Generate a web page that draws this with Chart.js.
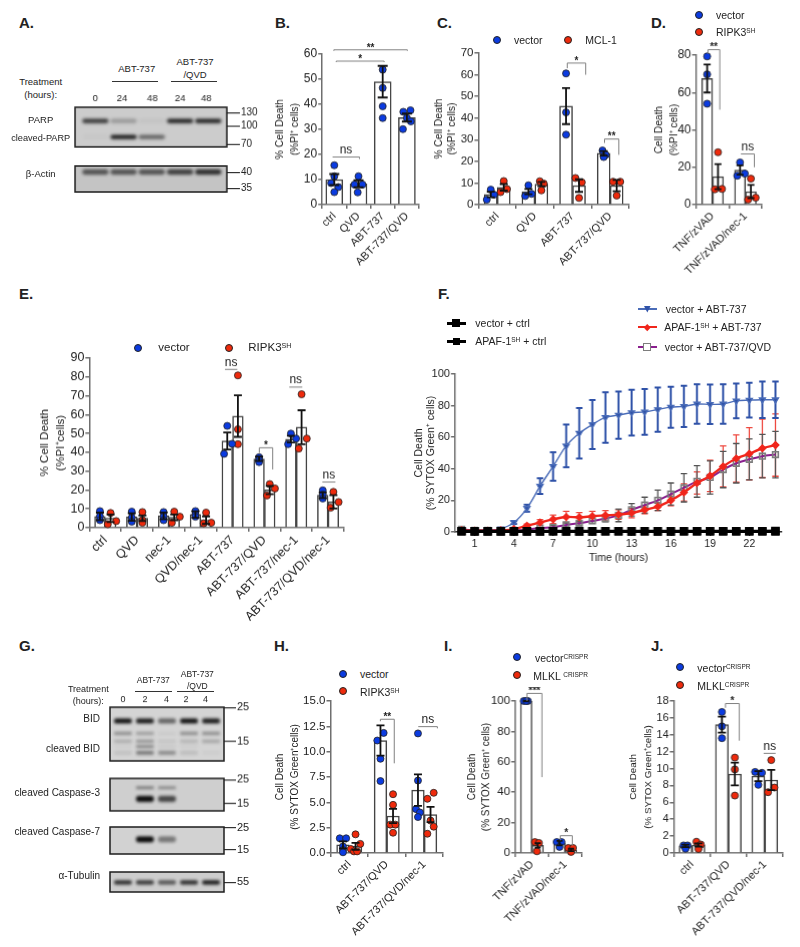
<!DOCTYPE html>
<html>
<head>
<meta charset="utf-8">
<title>Figure panels A-J</title>
<script src="https://cdn.jsdelivr.net/npm/chart.js@4/dist/chart.umd.min.js"></script>
<style>
  html, body { margin: 0; background: #fff; }
  #page { position: relative; width: 800px; height: 947px; overflow: hidden; background: #fff; font-family: "Liberation Sans", Arial, sans-serif; color: #222; }
  #page canvas { position: absolute; }
  .t { position: absolute; white-space: nowrap; line-height: 1; }
  .t sup { font-size: 62%; line-height: 0; vertical-align: 0.5em; }
  .m { position: absolute; }
</style>
</head>
<body>
<div id="page"></div>
<script>
// panel B
const bLabels = ["ctrl", "QVD", "ABT-737", "ABT-737/QVD"];
const bMeans = [10, 8.3, 49, 34.7];
const bSem = [2.2, 1.4, 6.3, 1.6];
const bPoints = [[15.7, 11.3, 8.6, 7, 5], [11.3, 8, 8, 4.9], [53.8, 46.5, 39.2, 34.5], [37.6, 37, 34.5, 33.2, 30.1]];
const bSpread = [[0, 0, -0.8, 1, 0], [0, -1, 1, -0.2], [0, 0, 0, 0], [0.9, -0.9, 0, 1, -1]];
const bBrackets = [[0.43, 1.54, 19, 19, 18.2, "ns"], [0.48, 3.52, 61.7, 61.3, 61.3, "**"], [0.58, 2.56, 57.2, 56.8, 56.8, "*"]];

// panel C
const cLabels = ["ctrl", "QVD", "ABT-737", "ABT-737/QVD"];
const cVector = [4.7, 6, 45.5, 23.7];
const cVectorSem = [1.3, 1.2, 8.3, 1];
const cVectorPoints = [[6.9, 4.6, 2.3], [8.9, 5, 4], [60.6, 42.6, 32.3], [25, 23, 22]];
const cVectorSpread = [[0, 0.8, -1], [0, 0.8, -0.8], [0, 0, 0], [-0.3, 0.5, 0]];
const cMcl = [8, 9.5, 8.8, 8.8];
const cMclSem = [1.5, 1, 2.9, 2.6];
const cMclPoints = [[10.9, 7.2, 5.8], [10.8, 9.7, 6.6], [12.3, 10.3, 3.1], [10.6, 10.6, 4.2]];
const cMclSpread = [[0, 0.8, -0.8], [-0.4, 0.6, 0], [-0.9, 0.7, 0], [-0.9, 0.9, 0]];
const cBrackets = [[2.36, 2.85, 65.4, 63, 60, "*"], [3.35, 3.73, 30.3, 28.5, 23, "**"]];

// panel D
const dLabels = ["TNF/zVAD", "TNF/zVAD/nec-1"];
const dVector = [67.5, 18.5];
const dVectorSem = [7.5, 2.5];
const dVectorPoints = [[79.3, 69.7, 54], [22.6, 16.6, 15.5]];
const dVectorSpread = [[0, 0, 0], [0, 1.2, -0.7]];
const dRipk = [15, 7];
const dRipkSem = [6.7, 3.5];
const dRipkPoints = [[28, 8.4, 8.2], [13.9, 3.7, 2.7]];
const dRipkSpread = [[0, 1, -0.8], [0, 1.2, -0.7]];
const dBrackets = [[0.36, 0.72, 82.9, 80.7, 50.8, "**"], [1.36, 1.77, 27.1, 27.1, 20, "ns"]];

// panel E
const eLabels = ["ctrl", "QVD", "nec-1", "QVD/nec-1", "ABT-737", "ABT-737/QVD", "ABT-737/nec-1", "ABT-737/QVD/nec-1"];
const eVector = [6, 5.7, 6.3, 7, 46, 36.5, 47, 17.2];
const eVectorSem = [2, 2, 1.8, 1.7, 4.5, 1.2, 1.8, 1.5];
const eVectorPoints = [[8.8, 6, 4], [8.5, 5.3, 3.2], [8.3, 5.8, 4], [8.8, 7, 5.8], [54, 44.5, 39.2], [37.4, 36, 34.8], [49.9, 47.3, 44.3], [19.8, 17.6, 15.5]];
const eVectorSpread = [[0, 0, 0], [0, 0, 0], [0, 0, 0], [0, 0, 0], [0, 1.2, -0.8], [0, 0, 0], [0, 1.3, -0.7], [0, 0, 0]];
const eRipk = [5, 5, 5.5, 4, 59.2, 20, 53.3, 13.7];
const eRipkSem = [2, 1.5, 1.5, 2, 11, 2.2, 9, 3.5];
const eRipkPoints = [[7.8, 3.5, 1.8], [8.3, 4, 2.6], [8.5, 5.8, 2.6], [8, 2.6, 2.3], [80.8, 52.2, 44.3], [23.1, 20.8, 17.1], [70.8, 47.3, 42], [19, 13.6, 10.6]];
const eRipkSpread = [[0, 1.4, -0.7], [0, 0, 0], [0, 1.4, -0.6], [0, 1.3, -0.6], [0, 0, 0], [0, 1.3, -0.7], [0, 1.3, -0.7], [0, 1.3, -0.7]];
const eBrackets = [[4.26, 4.65, 84, 84, 84, "ns"], [6.28, 6.69, 74.6, 74.6, 74.6, "ns"], [7.32, 7.73, 24.2, 24.2, 24.2, "ns"], [5.34, 5.76, 42.4, 39.7, 30.9, "*"]];

// panel F
const fHours = [0, 1, 2, 3, 4, 5, 6, 7, 8, 9, 10, 11, 12, 13, 14, 15, 16, 17, 18, 19, 20, 21, 22, 23, 24];
const fHourTicks = [1, 4, 7, 10, 13, 16, 19, 22];
const fVectorAbt = [1.5, 1, 1, 2, 6, 15, 29, 41.5, 54.5, 62.5, 68, 72.5, 74, 75.5, 76, 77.5, 79, 79.5, 81, 80.8, 81, 83, 83.5, 83.7, 83.7];
const fVectorAbtErr = [0, 0, 0, 0, 1, 2.2, 5, 9, 13.5, 16, 15.5, 16, 15, 14.5, 14.5, 14, 13, 13, 12.5, 12.5, 12.5, 11, 11, 11.5, 11.5];
const fApafAbt = [1, 0.8, 0.8, 1, 1.8, 4, 6, 8, 9.5, 9.3, 10, 10.5, 11, 12, 14, 16, 20, 25, 31, 35.5, 41.5, 46.5, 49.5, 53, 55];
const fApafAbtErr = [0, 0, 0, 0, 0.5, 1, 1.8, 2.7, 3.5, 3, 3, 3, 3, 3, 2.5, 2.5, 3.5, 5.5, 7, 10, 13, 15, 16.5, 18.5, 19.7];
const fVectorQvd = [1.7, 1, 1, 1, 1, 1.5, 2.5, 3, 4.5, 5.5, 7, 8.5, 10.5, 14, 17, 20, 24, 28, 32, 34.5, 39.5, 43.5, 46, 48, 49];
const fVectorQvdErr = [0, 0, 0, 0, 0, 0, 0.5, 1, 1.2, 1.2, 1.5, 2, 4, 4, 5, 6.5, 7, 9, 10, 10.5, 11.5, 12.5, 13, 13.8, 14.7];
const fVectorCtrl = [0.5, 0.4, 0.4, 0.4, 0.4, 0.4, 0.4, 0.5, 0.4, 0.4, 0.4, 0.5, 0.5, 0.4, 0.5, 0.4, 0.4, 0.5, 0.5, 0.5, 0.5, 0.5, 0.5, 0.5, 0.6];
const fApafCtrl = [0.3, 0.3, 0.3, 0.3, 0.3, 0.3, 0.3, 0.3, 0.3, 0.3, 0.3, 0.3, 0.3, 0.3, 0.3, 0.3, 0.3, 0.3, 0.3, 0.3, 0.3, 0.3, 0.3, 0.3, 0.3];

// panel H
const hLabels = ["ctrl", "ABT-737/QVD", "ABT-737/QVD/nec-1"];
const hVector = [0.8, 11.1, 6.2];
const hVectorSem = [0.35, 1.5, 1.55];
const hVectorPoints = [[1.45, 1.45, 0.65, 0.3, 0.07], [11.85, 11.1, 9.3, 7.1], [11.8, 7.15, 4.33, 4, 3.55]];
const hVectorSpread = [[-0.8, 0.8, 0, 0, 0], [0.8, -0.8, 0, 0], [0, 0, -0.5, 0.5, 0]];
const hRipk = [0.65, 3.65, 3.8];
const hRipkSem = [0.35, 0.7, 0.75];
const hRipkPoints = [[1.84, 0.9, 0.4, 0.16, 0.16], [5.8, 4.75, 2.8, 2.8, 2], [5.94, 5.35, 3.2, 2.6, 1.9]];
const hRipkSpread = [[0, 1.2, -1.2, -0.4, 0.4], [0, 0, -0.7, 0.6, 0], [0.8, -0.8, 0, 0.8, -0.8]];
const hBrackets = [[1.33, 1.7, 13.2, 13, 8.85, "**"], [2.34, 2.85, 12.47, 12.47, 12.3, "ns"]];

// panel I
const iLabels = ["TNF/zVAD", "TNF/zVAD/nec-1"];
const iVector = [100, 6.5];
const iVectorSem = [0.3, 1.5];
const iVectorPoints = [[100, 100, 100], [7.2, 7.2, 4]];
const iVectorSpread = [[-0.6, 0.4, 0], [-0.7, 0.5, 0]];
const iMlkl = [5, 2];
const iMlklSem = [1.5, 0.8];
const iMlklPoints = [[7.2, 6.6, 1.1], [3.3, 3.3, 0.7]];
const iMlklSpread = [[-0.7, 0.3, -0.2], [-0.7, 0.5, 0]];
const iBrackets = [[0.35, 0.8, 105, 100, 49.9, "***"], [1.35, 1.71, 11.4, 8.3, 4.8, "*"]];

// panel J
const jLabels = ["ctrl", "ABT-737/QVD", "ABT-737/QVD/nec-1"];
const jVector = [0.85, 15.2, 9.1];
const jVectorSem = [0.15, 0.95, 0.6];
const jVectorPoints = [[0.9, 0.9, 0.5], [16.7, 15, 13.6], [9.6, 9.5, 8.07]];
const jVectorSpread = [[-0.5, 0.5, 0], [0, 0, 0], [-0.8, 0.9, 0]];
const jMlkl = [0.95, 9.35, 8.65];
const jMlklSem = [0.2, 1.35, 1.2];
const jMlklPoints = [[1.34, 1, 0.47], [11.3, 9.9, 6.8], [11, 7.75, 7.2]];
const jMlklSpread = [[-0.5, 0.6, 0], [0, 0, 0], [0, 0.8, -0.8]];
const jBrackets = [[1.42, 1.8, 17.7, 17.2, 13.3, "*"], [2.47, 2.8, 11.8, 11.8, 11.8, "ns"]];

// blot A, band strength per lane
const aLaneLabels = ["0", "24", "48", "24", "48"];
const aLaneTicks = [0, 0.95, 2.02, 3, 3.93];
const aParp = [0.75, 0.25, 0.04, 0.85, 0.85];
const aCleavedParp = [0.02, 0.85, 0.5, 0, 0];
const aActin = [0.6, 0.6, 0.6, 0.7, 0.8];

// blot G, band strength per lane
const gLaneLabels = ["0", "2", "4", "2", "4"];
const gLaneTicks = [0, 1, 1.98, 2.86, 3.75];
const gBid = [0.95, 0.9, 0.55, 0.95, 0.9];
const gBid2 = [0.45, 0.35, 0.06, 0.45, 0.45];
const gBid3 = [0.25, 0.4, 0.1, 0.2, 0.3];
const gBid4 = [0.05, 0.55, 0.08, 0.05, 0];
const gBid5 = [0.1, 0.5, 0.4, 0.12, 0.03];
const gCasp3a = [0, 0.6, 0.5, 0, 0];
const gCasp3b = [0, 1, 0.7, 0, 0];
const gCasp7 = [0, 1, 0.45, 0, 0];
const gTubulin = [0.8, 0.75, 0.6, 0.8, 0.9];

const FONT = '"Liberation Sans", Arial, sans-serif';
const BLUE = "#0b3be0";
const RED = "#ee2a0c";
const AXIS = "#6f6f6f";
const BAR = "#444";
const INK = "#222";
const page = document.getElementById("page");
Chart.defaults.font.family = FONT;
Chart.defaults.color = INK;

function makeCanvas(x, y, w, h) {
  const c = document.createElement("canvas");
  c.width = w; c.height = h;
  c.style.left = x + "px"; c.style.top = y + "px";
  c.style.width = w + "px"; c.style.height = h + "px";
  page.appendChild(c);
  return c;
}

function addText(html, x, y, size, align, bold) {
  const d = document.createElement("div");
  d.className = "t";
  d.innerHTML = html;
  d.style.left = x + "px"; d.style.top = y + "px";
  d.style.fontSize = size + "px";
  if (bold) d.style.fontWeight = "bold";
  const tx = align == "center" ? "-50%" : align == "right" ? "-100%" : "0";
  d.style.transform = "translate(" + tx + ",-50%)";
  page.appendChild(d);
}

function addMark(x, y, w, h, css) {
  const d = document.createElement("div");
  d.className = "m";
  d.style.cssText = "left:" + (x - w / 2) + "px;top:" + (y - h / 2) + "px;width:" + w + "px;height:" + h + "px;" + css;
  page.appendChild(d);
}

function legendDot(x, y, color) {
  addMark(x, y, 8, 8, "background:" + color + ";border:0.8px solid #222;border-radius:50%;box-sizing:border-box;");
}

function legendLine(x1, x2, y, color, lw, markX, markCss, markSize) {
  addMark((x1 + x2) / 2, y, x2 - x1, lw, "background:" + color + ";");
  addMark(markX, y, markSize, markSize, markCss);
}

// bar centre on the x axis, which runs 0..number of groups
function barCentre(p, group, si) {
  const m = p.series.length;
  return group + 0.5 + (si - (m - 1) / 2) * p.cp / m;
}

// error bars and significance brackets for the bar panels
function overlay(p) {
  return {
    id: "overlay",
    afterDatasetsDraw(chart) {
      const ctx = chart.ctx, xs = chart.scales.x, ys = chart.scales.y;
      ctx.save();
      ctx.strokeStyle = "#111"; ctx.lineWidth = 1.8;
      p.series.forEach((s, si) => {
        s.means.forEach((v, g) => {
          const x = xs.getPixelForValue(barCentre(p, g, si));
          const hi = ys.getPixelForValue(v + s.sem[g]), lo = ys.getPixelForValue(v - s.sem[g]);
          ctx.beginPath();
          ctx.moveTo(x, hi); ctx.lineTo(x, lo);
          ctx.moveTo(x - p.cap, hi); ctx.lineTo(x + p.cap, hi);
          ctx.moveTo(x - p.cap, lo); ctx.lineTo(x + p.cap, lo);
          ctx.stroke();
        });
      });
      ctx.strokeStyle = "#808080"; ctx.lineWidth = 1;
      ctx.fillStyle = INK; ctx.textAlign = "center"; ctx.textBaseline = "bottom";
      (p.brackets || []).forEach(b => {
        const x1 = xs.getPixelForValue(b[0]), x2 = xs.getPixelForValue(b[1]);
        const top = ys.getPixelForValue(b[2]);
        ctx.beginPath();
        ctx.moveTo(x1, ys.getPixelForValue(b[3]));
        ctx.lineTo(x1, top); ctx.lineTo(x2, top);
        ctx.lineTo(x2, ys.getPixelForValue(b[4]));
        ctx.stroke();
        ctx.font = b[5] == "ns" ? "12px " + FONT : "bold 10px " + FONT;
        ctx.fillText(b[5], (x1 + x2) / 2, top + (b[5] == "ns" ? -1 : 3));
      });
      ctx.restore();
    }
  };
}

function barPanel(p) {
  const pad = 14, xh = p.xh || 100;
  const yw = p.left - p.titleX + p.titleGap / 2;
  const w = p.right - p.left, h = p.bottom - p.top;
  const canvas = makeCanvas(p.left - yw, p.top - pad, yw + w + pad, pad + h + xh);
  const n = p.labels.length, m = p.series.length;
  const unit = w / n;
  const slot = 4 / unit;   // one spread step of the dots in x axis units
  const bars = p.series.map((s, si) => ({
    type: "bar", order: 3, grouped: false,
    data: s.means.map((v, g) => ({ x: barCentre(p, g, si), y: v })),
    backgroundColor: "#fff", borderColor: BAR, borderWidth: 1.5, borderSkipped: "bottom",
    barThickness: p.cp * unit / m
  }));
  const dots = p.series.map((s, si) => {
    const pts = [];
    s.points.forEach((vals, g) => {
      vals.forEach((v, i) => pts.push({ x: barCentre(p, g, si) + s.spread[g][i] * slot, y: v }));
    });
    return {
      type: "scatter", data: pts, order: 1, clip: false,
      backgroundColor: s.color, borderColor: "#222", borderWidth: 0.8, pointRadius: p.dot || 3.5
    };
  });
  return new Chart(canvas, {
    type: "bar",
    data: { datasets: bars.concat(dots) },
    options: {
      responsive: false, animation: false, events: [],
      layout: { padding: { top: pad, right: pad, left: 0, bottom: 0 } },
      plugins: { legend: { display: false }, tooltip: { enabled: false } },
      scales: {
        x: {
          type: "linear", min: 0, max: n, offset: false,
          afterBuildTicks: s => { s.ticks = p.labels.map((l, g) => ({ value: g + 0.5 })); },
          afterFit: s => { s.height = xh; },
          grid: { drawOnChartArea: false, color: AXIS, lineWidth: 1.5, tickLength: 4 },
          border: { color: AXIS, width: 1.5 },
          ticks: { autoSkip: false, minRotation: 45, maxRotation: 45, padding: 1, color: INK, font: { size: p.xFont },
            callback: (v, i) => p.labels[i] }
        },
        y: {
          min: 0, max: p.yMax,
          afterFit: s => { s.width = yw; },
          grid: { drawOnChartArea: false, color: AXIS, lineWidth: 1.5, tickLength: 4 },
          border: { color: AXIS, width: 1.5 },
          ticks: { stepSize: p.step, padding: 1, color: INK, font: { size: p.yFont }, callback: p.tickFormat || (v => v) },
          title: {
            display: true, text: p.title, color: INK, padding: 0,
            font: { size: p.titleFont, lineHeight: p.titleGap / p.titleFont }
          }
        }
      }
    },
    plugins: [overlay(p)]
  });
}

function makeBand(w, h, alpha) {
  const c = document.createElement("canvas");
  c.width = w + 12; c.height = h + 12;
  const ctx = c.getContext("2d");
  ctx.filter = "blur(1.7px)";
  ctx.fillStyle = "rgba(12,12,12," + alpha + ")";
  ctx.beginPath();
  ctx.roundRect(6, 6, w, h, h / 2);
  ctx.fill();
  return c;
}

const blotFrame = {
  id: "blotFrame",
  beforeDatasetsDraw(chart, args, opts) {
    const a = chart.chartArea, ctx = chart.ctx;
    ctx.save();
    ctx.fillStyle = opts.bg;
    ctx.fillRect(a.left, a.top, a.width, a.height);
    ctx.restore();
  },
  afterDatasetsDraw(chart) {
    const a = chart.chartArea, ctx = chart.ctx;
    ctx.save();
    ctx.strokeStyle = "#1c1c1c"; ctx.lineWidth = 1.5;
    ctx.strokeRect(a.left, a.top, a.width, a.height);
    ctx.restore();
  }
};

function blotStrip(o) {
  const pad = 14, low = 10, side = 2;
  const w = o.right - o.left, h = o.bottom - o.top;
  const canvas = makeCanvas(o.left - side, o.top - pad, side + w + o.axisW, pad + h + low);
  const hasLanes = !!o.laneLabels;
  const sets = o.bands.map(b => {
    const lanes = [];
    b.levels.forEach((a, i) => { if (a > 0) lanes.push({ lane: i, a: a }); });
    return {
      data: lanes.map(l => ({ x: l.lane, y: b.kda })),
      pointStyle: lanes.map(l => makeBand(o.bandW, b.thick, l.a)),
      pointRadius: 2
    };
  });
  return new Chart(canvas, {
    type: "scatter",
    data: { datasets: sets },
    options: {
      responsive: false, animation: false, events: [],
      layout: { padding: { left: side, top: hasLanes ? 0 : pad, bottom: low, right: 0 } },
      plugins: { legend: { display: false }, tooltip: { enabled: false }, blotFrame: { bg: o.bg } },
      scales: {
        x: {
          type: "linear", position: "top", display: hasLanes,
          min: o.laneMin, max: o.laneMax,
          afterBuildTicks: s => { s.ticks = (o.laneTicks || []).map(v => ({ value: v })); },
          afterFit: s => { s.height = pad; },
          grid: { display: false, drawTicks: false }, border: { display: false },
          ticks: { autoSkip: false, maxRotation: 0, padding: o.lanePad, color: INK, font: { size: o.laneFont },
            callback: (v, i) => o.laneLabels ? o.laneLabels[i] : "" }
        },
        y: {
          type: "logarithmic", position: "right", bounds: "data",
          min: o.kdaMin, max: o.kdaMax,
          afterBuildTicks: s => { s.ticks = o.markers.map(v => ({ value: v })); },
          afterFit: s => { s.width = o.axisW; },
          grid: { drawOnChartArea: false, color: "#333", lineWidth: 1.2, tickLength: o.tickLen },
          border: { display: false },
          ticks: { autoSkip: false, padding: 1, color: INK, font: { size: o.markFont }, callback: v => String(v) }
        }
      }
    },
    plugins: [blotFrame]
  });
}

// ---- panel letters
[["A.", 19, 22], ["B.", 275, 22], ["C.", 437, 22], ["D.", 651, 22], ["E.", 19, 293], ["F.", 438, 293],
 ["G.", 19, 645], ["H.", 274, 645], ["I.", 444, 645], ["J.", 651, 645]].forEach(l => addText(l[0], l[1], l[2], 15, "left", true));

// ---- A blot
const aLane = { laneMin: -0.72, laneMax: 4.66, bandW: 26, axisW: 36, tickLen: 13, markFont: 10 };
blotStrip(Object.assign({}, aLane, { left: 72, right: 226.7, top: 107.3, bottom: 146.7, kdaMin: 66.3, kdaMax: 144.5, markers: [130, 100, 70], bg: "#cccccc",
  laneLabels: aLaneLabels, laneTicks: aLaneTicks, laneFont: 9.5, lanePad: 3,
  bands: [{ kda: 111, levels: aParp, thick: 4.5 }, { kda: 81, levels: aCleavedParp, thick: 4.5 }] }));
blotStrip(Object.assign({}, aLane, { left: 72, right: 226.7, top: 152, bottom: 192, kdaMin: 33.9, kdaMax: 42.3, markers: [40, 35], bg: "#c4c4c4",
  bands: [{ kda: 40.3, levels: aActin, thick: 5.5 }] }));
addText("Treatment", 40.7, 81.7, 9.5, "center");
addText("(hours):", 40.7, 94.7, 9.5, "center");
addText("PARP", 40.7, 120.3, 9.5, "center");
addText("cleaved-PARP", 40.7, 139.3, 9.2, "center");
addText("β-Actin", 40.7, 174.3, 9.5, "center");
addText("ABT-737", 136.7, 69.3, 9.5, "center");
addText("ABT-737", 195, 62, 9.5, "center");
addText("/QVD", 195, 75.3, 9.5, "center");
addMark(135, 81.7, 46.6, 1, "background:#333;");
addMark(194.2, 81.7, 46.3, 1, "background:#333;");

// ---- B
barPanel({ left: 321.7, right: 418.8, top: 54.3, bottom: 205, yMax: 60, step: 10, cp: 0.7, cap: 5, labels: bLabels,
  series: [{ means: bMeans, sem: bSem, points: bPoints, spread: bSpread, color: BLUE }], brackets: bBrackets,
  title: ["% Cell Death", "(%PI⁺ cells)"], titleX: 280, titleGap: 15, titleFont: 10.3, yFont: 12, xFont: 11 });

// ---- C
barPanel({ left: 478, right: 628.6, top: 53.3, bottom: 205, yMax: 70, step: 10, cp: 0.69, cap: 4, labels: cLabels,
  series: [{ means: cVector, sem: cVectorSem, points: cVectorPoints, spread: cVectorSpread, color: BLUE },
           { means: cMcl, sem: cMclSem, points: cMclPoints, spread: cMclSpread, color: RED }], brackets: cBrackets,
  title: ["% Cell Death", "(%PI⁺ cells)"], titleX: 438.3, titleGap: 13.5, titleFont: 10.3, yFont: 11.5, xFont: 11 });
legendDot(496.7, 40, BLUE); addText("vector", 514, 40, 10.5, "left");
legendDot(568.3, 40, RED); addText("MCL-1", 585.3, 40, 10.5, "left");

// ---- D
barPanel({ left: 695.7, right: 761.7, top: 55.3, bottom: 205, yMax: 80, step: 20, cp: 0.66, cap: 3.5, labels: dLabels,
  series: [{ means: dVector, sem: dVectorSem, points: dVectorPoints, spread: dVectorSpread, color: BLUE },
           { means: dRipk, sem: dRipkSem, points: dRipkPoints, spread: dRipkSpread, color: RED }], brackets: dBrackets,
  title: ["Cell Death", "(%PI⁺ cells)"], titleX: 659.3, titleGap: 14.7, titleFont: 10.2, yFont: 12, xFont: 11 });
legendDot(699.3, 15, BLUE); addText("vector", 716, 15, 10.5, "left");
legendDot(699.3, 31.7, RED); addText("RIPK3<sup>SH</sup>", 716, 32, 10.5, "left");

// ---- E
barPanel({ left: 89.3, right: 344, top: 358.3, bottom: 528.3, yMax: 90, step: 10, cp: 0.67, cap: 4, labels: eLabels,
  series: [{ means: eVector, sem: eVectorSem, points: eVectorPoints, spread: eVectorSpread, color: BLUE },
           { means: eRipk, sem: eRipkSem, points: eRipkPoints, spread: eRipkSpread, color: RED }], brackets: eBrackets,
  title: ["% Cell Death", "(%PI⁺cells)"], titleX: 44.3, titleGap: 16.7, titleFont: 11.5, yFont: 12.5, xFont: 12.5 });
legendDot(138.3, 347.7, BLUE); addText("vector", 158.3, 347.7, 11.5, "left");
legendDot(229.3, 347.7, RED); addText("RIPK3<sup>SH</sup>", 248.3, 348, 11.5, "left");

// ---- F
(function () {
  const left = 455, right = 781.7, top = 373.7, bottom = 532.3, pad = 14, xh = 32;
  const yw = left - 419.3 + 6.2;
  const canvas = makeCanvas(left - yw, top - pad, yw + right - left + pad, pad + bottom - top + xh);
  const sets = [
    { data: fVectorCtrl, borderColor: "#000", backgroundColor: "#000", borderWidth: 3, pointStyle: "rect", pointRadius: 4 },
    { data: fApafCtrl, borderColor: "#000", backgroundColor: "#000", borderWidth: 3, pointStyle: "rect", pointRadius: 3.5 },
    { data: fApafAbt, borderColor: "#f0261c", backgroundColor: "#f0261c", borderWidth: 2.4, pointStyle: "rectRot", pointRadius: 2.6, tension: 0.35, err: fApafAbtErr, errColor: "#ee4a40" },
    { data: fVectorQvd, borderColor: "#8a1f8e", backgroundColor: "rgba(255,255,255,0)", borderWidth: 2, pointStyle: "rect", pointRadius: 4, pointBorderColor: "#7d7d7d", pointBorderWidth: 1.6, tension: 0.35, err: fVectorQvdErr, errColor: "#555" },
    { data: fVectorAbt, borderColor: "#4a6cb8", backgroundColor: "#2f52a8", borderWidth: 1.4, pointStyle: "triangle", pointRotation: 180, pointRadius: 3.4, tension: 0.35, err: fVectorAbtErr, errColor: "#2f52a8", errWidth: 2 }
  ];
  sets.forEach(s => { s.clip = false; });
  const fErrors = {
    id: "fErrors",
    beforeDatasetsDraw(chart) {
      const ctx = chart.ctx, xs = chart.scales.x, ys = chart.scales.y;
      ctx.save();
      sets.forEach((s, i) => {
        if (!s.err) return;
        ctx.strokeStyle = s.errColor; ctx.lineWidth = s.errWidth || 1.3;
        s.err.forEach((e, k) => {
          if (!e) return;
          const x = xs.getPixelForValue(fHours[k]);
          const hi = ys.getPixelForValue(s.data[k] + e), lo = ys.getPixelForValue(s.data[k] - e);
          ctx.beginPath();
          ctx.moveTo(x, hi); ctx.lineTo(x, lo);
          ctx.moveTo(x - 3.2, hi); ctx.lineTo(x + 3.2, hi);
          ctx.moveTo(x - 3.2, lo); ctx.lineTo(x + 3.2, lo);
          ctx.stroke();
        });
      });
      ctx.restore();
    }
  };
  new Chart(canvas, {
    type: "line",
    data: { labels: fHours, datasets: sets.map(s => Object.assign({}, s, { data: s.data.map((v, k) => ({ x: fHours[k], y: v })) })) },
    options: {
      responsive: false, animation: false, events: [],
      layout: { padding: { top: pad, right: pad, left: 0, bottom: 0 } },
      plugins: { legend: { display: false }, tooltip: { enabled: false } },
      scales: {
        x: {
          type: "linear", min: -0.5, max: 24.5,
          afterBuildTicks: s => { s.ticks = fHourTicks.map(v => ({ value: v })); },
          afterFit: s => { s.height = xh; },
          grid: { drawOnChartArea: false, color: "#333", lineWidth: 1.2, tickLength: 4 },
          border: { color: "#333", width: 1.5 },
          ticks: { autoSkip: false, maxRotation: 0, padding: 2, color: INK, font: { size: 10.5 }, callback: v => String(v) },
          title: { display: true, text: "Time (hours)", color: INK, padding: 0, font: { size: 10.5 } }
        },
        y: {
          min: 0, max: 100,
          afterFit: s => { s.width = yw; },
          grid: { drawOnChartArea: false, color: AXIS, lineWidth: 1.5, tickLength: 4 },
          border: { color: AXIS, width: 1.5 },
          ticks: { stepSize: 20, padding: 1, color: INK, font: { size: 11 } },
          title: { display: true, text: ["Cell Death", "(% SYTOX Green⁺ cells)"], color: INK, padding: 0, font: { size: 10.5, lineHeight: 1.18 } }
        }
      }
    },
    plugins: [fErrors]
  });
})();
legendLine(447.3, 466, 323.3, "#000", 2.5, 456, "background:#000;", 8);
addText("vector + ctrl", 475.3, 323.3, 10.5, "left");
legendLine(447.3, 466, 341.3, "#000", 2.5, 456, "background:#000;", 7);
addText("APAF-1<sup>SH</sup> + ctrl", 475.3, 341.3, 10.5, "left");
legendLine(638.3, 656.7, 309, "#4a6cb8", 1.4, 647.3, "background:#2f52a8;clip-path:polygon(0 0,100% 0,50% 100%);", 7);
addText("vector + ABT-737", 665.7, 309, 10.5, "left");
legendLine(638.3, 656.7, 327.3, "#f0261c", 2.4, 647.3, "background:#f0261c;transform:rotate(45deg);", 4.5);
addText("APAF-1<sup>SH</sup> + ABT-737", 664.3, 327.3, 10.5, "left");
legendLine(638.3, 656.7, 346.7, "#8a1f8e", 2, 647.3, "background:#fff;border:1.6px solid #7d7d7d;box-sizing:border-box;", 8);
addText("vector + ABT-737/QVD", 664.7, 346.7, 10.5, "left");

// ---- G blot
const gLane = { left: 106.7, right: 224.3, laneMin: -0.586, laneMax: 4.59, bandW: 18, axisW: 32, tickLen: 12, markFont: 11 };
blotStrip(Object.assign({}, gLane, { top: 707.3, bottom: 760.7, kdaMin: 11.2, kdaMax: 25.05, markers: [25, 15], bg: "#d4d4d4",
  laneLabels: gLaneLabels, laneTicks: gLaneTicks, laneFont: 9, lanePad: 2,
  bands: [{ kda: 20.4, levels: gBid, thick: 5 }, { kda: 17, levels: gBid2, thick: 2.5 }, { kda: 15.1, levels: gBid3, thick: 2.5 }, { kda: 13.9, levels: gBid4, thick: 2 }, { kda: 12.7, levels: gBid5, thick: 3.5 }] }));
blotStrip(Object.assign({}, gLane, { top: 764, bottom: 810.7, kdaMin: 12.8, kdaMax: 25.8, markers: [25, 15], bg: "#cfcfcf",
  bands: [{ kda: 21.1, levels: gCasp3a, thick: 2 }, { kda: 16.6, levels: gCasp3b, thick: 6 }] }));
blotStrip(Object.assign({}, gLane, { top: 813.3, bottom: 854.3, kdaMin: 13.7, kdaMax: 25.3, markers: [25, 15], bg: "#d2d2d2",
  bands: [{ kda: 19.1, levels: gCasp7, thick: 6 }] }));
blotStrip(Object.assign({}, gLane, { top: 857.7, bottom: 891.7, kdaMin: 42.8, kdaMax: 71.3, markers: [55], bg: "#cdcdcd",
  bands: [{ kda: 55, levels: gTubulin, thick: 4.5 }] }));
addText("Treatment", 88.3, 689.3, 9, "center");
addText("(hours):", 88.3, 701, 9, "center");
addText("ABT-737", 153.3, 680, 8.5, "center");
addText("ABT-737", 197.3, 674, 8.5, "center");
addText("/QVD", 197.3, 686, 8.5, "center");
addMark(153.3, 691.7, 36.7, 1, "background:#333;");
addMark(195.3, 691.7, 37.3, 1, "background:#333;");
addText("BID", 100, 719.3, 10, "right");
addText("cleaved BID", 100, 749.3, 10, "right");
addText("cleaved Caspase-3", 100, 793.3, 10, "right");
addText("cleaved Caspase-7", 100, 832.3, 10, "right");
addText("α-Tubulin", 100, 875.7, 10, "right");

// ---- H
barPanel({ left: 330, right: 443.3, top: 701, bottom: 853.3, yMax: 15, step: 2.5, cp: 0.67, cap: 4, labels: hLabels,
  series: [{ means: hVector, sem: hVectorSem, points: hVectorPoints, spread: hVectorSpread, color: BLUE },
           { means: hRipk, sem: hRipkSem, points: hRipkPoints, spread: hRipkSpread, color: RED }], brackets: hBrackets,
  tickFormat: v => v.toFixed(1),
  title: ["Cell Death", "(% SYTOX Green⁺cells)"], titleX: 280, titleGap: 15, titleFont: 10, yFont: 11.5, xFont: 11 });
legendDot(343.3, 674, BLUE); addText("vector", 360, 674, 10.5, "left");
legendDot(343.3, 691.3, RED); addText("RIPK3<sup>SH</sup>", 360, 691.5, 10.5, "left");

// ---- I
barPanel({ left: 515, right: 581.7, top: 701, bottom: 853.3, yMax: 100, step: 20, cp: 0.69, cap: 3, labels: iLabels,
  series: [{ means: iVector, sem: iVectorSem, points: iVectorPoints, spread: iVectorSpread, color: BLUE },
           { means: iMlkl, sem: iMlklSem, points: iMlklPoints, spread: iMlklSpread, color: RED }], brackets: iBrackets,
  title: ["Cell Death", "(% SYTOX Green⁺ cells)"], titleX: 472.3, titleGap: 14.4, titleFont: 10, yFont: 11.5, xFont: 11 });
legendDot(516.7, 657.3, BLUE); addText("vector<sup>CRISPR</sup>", 535, 658, 10.5, "left");
legendDot(516.7, 675, RED); addText("MLKL <sup>CRISPR</sup>", 533.3, 675.5, 10.5, "left");

// ---- J
barPanel({ left: 673.3, right: 782.7, top: 701, bottom: 853.3, yMax: 18, step: 2, cp: 0.71, cap: 4, labels: jLabels,
  series: [{ means: jVector, sem: jVectorSem, points: jVectorPoints, spread: jVectorSpread, color: BLUE },
           { means: jMlkl, sem: jMlklSem, points: jMlklPoints, spread: jMlklSpread, color: RED }], brackets: jBrackets,
  title: ["Cell Death", "(% SYTOX Green⁺cells)"], titleX: 633.3, titleGap: 15, titleFont: 9.8, yFont: 11, xFont: 11 });
legendDot(680, 667.3, BLUE); addText("vector<sup>CRISPR</sup>", 697.3, 668, 10.5, "left");
legendDot(680, 685, RED); addText("MLKL<sup>CRISPR</sup>", 697.3, 685.5, 10.5, "left");
</script>
</body>
</html>
